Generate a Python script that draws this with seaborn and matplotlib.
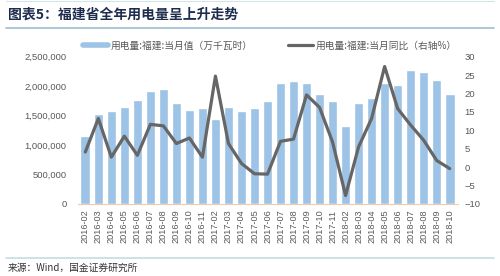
import numpy as np
import pandas as pd
import matplotlib
matplotlib.use("Agg")
import matplotlib.pyplot as plt
from matplotlib.lines import Line2D
from matplotlib.ticker import FuncFormatter, MultipleLocator
import seaborn as sns

months = ["2016-02", "2016-03", "2016-04", "2016-05", "2016-06", "2016-07", "2016-08",
          "2016-09", "2016-10", "2016-11",
          "2017-02", "2017-03", "2017-04", "2017-05", "2017-06", "2017-07", "2017-08",
          "2017-09", "2017-10", "2017-11",
          "2018-02", "2018-03", "2018-04", "2018-05", "2018-06", "2018-07", "2018-08",
          "2018-09", "2018-10"]
monthly_value = [1160000, 1530000, 1570000, 1640000, 1770000, 1920000, 1950000,
                 1720000, 1600000, 1630000,
                 1440000, 1640000, 1570000, 1620000, 1740000, 2060000, 2090000,
                 2060000, 1860000, 1740000,
                 1330000, 1720000, 1800000, 2050000, 2020000, 2280000, 2240000,
                 2100000, 1860000]
yoy_pct = [4.1, 13.2, 2.7, 8.4, 3.2, 11.6, 11.2, 6.4, 7.9, 2.7,
           24.7, 6.4, 1.0, -1.8, -1.9, 7.0, 7.6, 19.6, 16.2, 6.8,
           -7.7, 5.5, 13.2, 27.3, 15.9, 11.4, 7.3, 1.8, -0.4]

label_bar = "用电量:福建:当月值（万千瓦时）"
label_line = "用电量:福建:当月同比（右轴%）"
title_text = "图表5：福建省全年用电量呈上升走势"
source_text = "来源：Wind，国金证券研究所"

bar_color = "#9DC3E6"
line_color = "#666666"
text_color = "#595959"

df = pd.DataFrame({"month": months, "value": monthly_value, "yoy": yoy_pct})
df["pos"] = np.arange(len(df))

sns.set_theme(style="white")
plt.rcParams["font.family"] = ["Liberation Sans", "Noto Sans CJK SC", "DejaVu Sans"]

fig = plt.figure(figsize=(5.0, 2.76), dpi=100)
ax = fig.add_axes([0.155, 0.261, 0.760, 0.534])

sns.barplot(data=df, x="month", y="value", color=bar_color, width=0.74,
            saturation=1, ax=ax, zorder=2)
ax.set_xlim(-0.6, len(months) - 0.4)
ax.set_ylim(0, 2500000)
ax.yaxis.set_major_locator(MultipleLocator(500000))
ax.yaxis.set_major_formatter(FuncFormatter(lambda v, p: f"{int(v):,}"))
ax.set_xlabel("")
ax.set_ylabel("")
for s in ["top", "right", "left"]:
    ax.spines[s].set_visible(False)
ax.spines["bottom"].set_color("#F4CBA8")
ax.spines["bottom"].set_linewidth(0.8)
ax.tick_params(axis="x", labelrotation=90, labelsize=6.6, colors=text_color,
               length=2, width=0.6, color="#F4CBA8", pad=2)
ax.tick_params(axis="y", labelsize=6.8, colors=text_color, length=0, pad=8)

ax2 = ax.twinx()
sns.lineplot(data=df, x="pos", y="yoy", color=line_color, linewidth=2.3, ax=ax2, zorder=3)
ax2.set_ylim(-10, 30)
ax2.yaxis.set_major_locator(MultipleLocator(5))
ax2.set_xlim(-0.6, len(months) - 0.4)
ax2.set_ylabel("")
ax2.set_xlabel("")
for s in ["top", "right", "left", "bottom"]:
    ax2.spines[s].set_visible(False)
ax2.tick_params(axis="y", labelsize=6.8, colors=text_color, length=0, pad=5)

handles = [Line2D([0], [0], color=bar_color, lw=4),
           Line2D([0], [0], color=line_color, lw=2.3)]
leg = fig.legend(handles, [label_bar, label_line], loc="center",
                 bbox_to_anchor=(0.54, 0.835), ncol=2, frameon=False,
                 handlelength=2.6, handletextpad=0.3,
                 columnspacing=3.6,
                 prop={"family": ["Noto Sans CJK SC", "DejaVu Sans"], "size": 7})
for t in leg.get_texts():
    t.set_color(text_color)

fig.text(0.016, 0.948, title_text, fontsize=10, fontweight="bold",
         color="#1F2D4D", family=["Noto Sans CJK SC", "DejaVu Sans"],
         va="center", ha="left", style="italic")
fig.add_artist(Line2D([0.012, 0.988], [0.900, 0.900], color="#9DBFD0", lw=1.2))
fig.add_artist(Line2D([0.012, 0.988], [0.995, 0.995], color="#D6E4EA", lw=0.8))
fig.add_artist(Line2D([0.012, 0.988], [0.065, 0.065], color="#C5DDE0", lw=1.2))
fig.text(0.016, 0.028, source_text, fontsize=7, color="#333333",
         family=["Noto Sans CJK SC", "DejaVu Sans"], va="center", ha="left")

fig.savefig("out.png", dpi=100)
